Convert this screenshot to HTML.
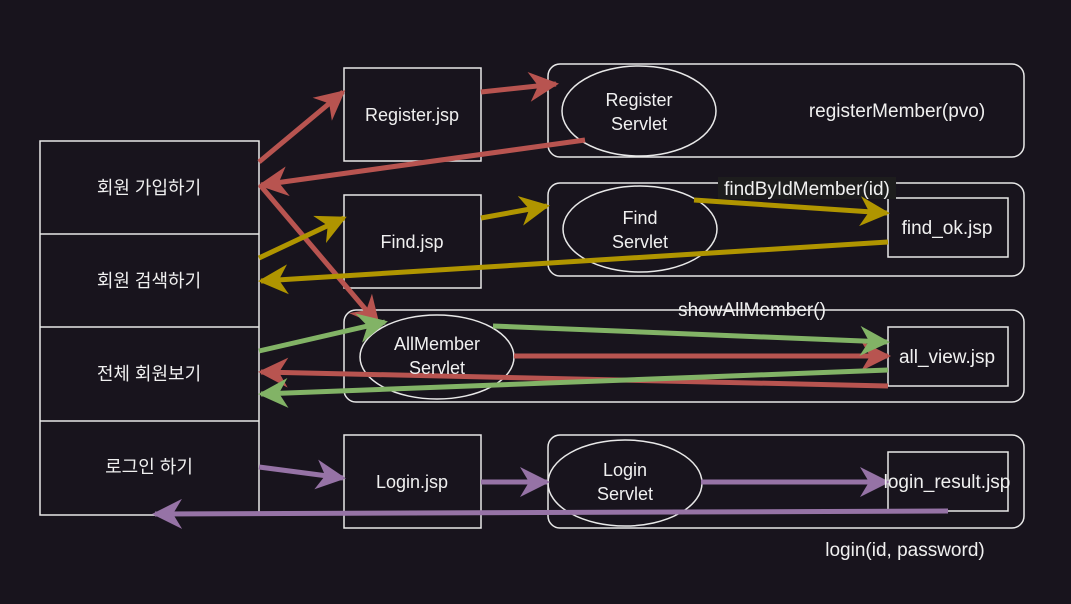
<!DOCTYPE html>
<html><head><meta charset="utf-8"><style>
html,body{margin:0;padding:0;background:#18141d;}
svg{display:block;}
text{font-family:"Liberation Sans","Noto Sans CJK KR",sans-serif;fill:#f0f0f0;font-size:18px;text-anchor:middle;}
</style></head><body>
<svg width="1071" height="604" viewBox="0 0 1071 604">
<defs>
<marker id="mr" viewBox="0 0 10 10" refX="9" refY="5" markerWidth="6" markerHeight="6" orient="auto" markerUnits="strokeWidth"><path d="M0,0 L10,5 L0,10 L3,5 Z" fill="#b85450"/></marker>
<marker id="my" viewBox="0 0 10 10" refX="9" refY="5" markerWidth="6" markerHeight="6" orient="auto" markerUnits="strokeWidth"><path d="M0,0 L10,5 L0,10 L3,5 Z" fill="#b09500"/></marker>
<marker id="mg" viewBox="0 0 10 10" refX="9" refY="5" markerWidth="6" markerHeight="6" orient="auto" markerUnits="strokeWidth"><path d="M0,0 L10,5 L0,10 L3,5 Z" fill="#82b366"/></marker>
<marker id="mp" viewBox="0 0 10 10" refX="9" refY="5" markerWidth="6" markerHeight="6" orient="auto" markerUnits="strokeWidth"><path d="M0,0 L10,5 L0,10 L3,5 Z" fill="#9673a6"/></marker>
</defs>
<g fill="none" stroke="#e8e8e8" stroke-width="1.5">
<rect x="40" y="141" width="219" height="374"/>
<line x1="40" y1="234" x2="259" y2="234"/><line x1="40" y1="327" x2="259" y2="327"/><line x1="40" y1="421" x2="259" y2="421"/>
<rect x="344" y="68" width="137" height="93"/>
<rect x="344" y="195" width="137" height="93"/>
<rect x="344" y="435" width="137" height="93"/>
<rect x="548" y="64" width="476" height="93" rx="12"/>
<rect x="548" y="183" width="476" height="93" rx="12"/>
<rect x="344" y="310" width="680" height="92" rx="12"/>
<rect x="548" y="435" width="476" height="93" rx="12"/>
<ellipse cx="639" cy="111" rx="77" ry="45"/>
<ellipse cx="640" cy="229" rx="77" ry="43"/>
<ellipse cx="437" cy="357" rx="77" ry="42"/>
<ellipse cx="625" cy="483" rx="77" ry="43"/>
<rect x="888" y="198" width="120" height="59"/>
<rect x="888" y="327" width="120" height="59"/>
<rect x="888" y="452" width="120" height="59"/>
</g>
<rect x="718" y="177" width="178" height="22" fill="#1d1d1d"/>
<g fill="none" stroke-width="5">
<line x1="259" y1="162" x2="343" y2="92" stroke="#b85450" marker-end="url(#mr)"/>
<line x1="481" y1="92" x2="556" y2="84" stroke="#b85450" marker-end="url(#mr)"/>
<line x1="585" y1="140" x2="261" y2="185" stroke="#b85450" marker-end="url(#mr)"/>
<line x1="260" y1="185" x2="378" y2="324" stroke="#b85450" marker-end="url(#mr)"/>
<line x1="514" y1="356" x2="888" y2="356" stroke="#b85450" marker-end="url(#mr)"/>
<line x1="888" y1="386" x2="261" y2="372" stroke="#b85450" marker-end="url(#mr)"/>
<line x1="259" y1="258" x2="344" y2="218" stroke="#b09500" marker-end="url(#my)"/>
<line x1="481" y1="218" x2="547" y2="206" stroke="#b09500" marker-end="url(#my)"/>
<line x1="694" y1="200" x2="887" y2="213" stroke="#b09500" marker-end="url(#my)"/>
<line x1="888" y1="242" x2="261" y2="281" stroke="#b09500" marker-end="url(#my)"/>
<line x1="259" y1="351" x2="385" y2="322" stroke="#82b366" marker-end="url(#mg)"/>
<line x1="493" y1="326" x2="887" y2="342" stroke="#82b366" marker-end="url(#mg)"/>
<line x1="888" y1="370" x2="261" y2="394" stroke="#82b366" marker-end="url(#mg)"/>
<line x1="259" y1="467" x2="343" y2="478" stroke="#9673a6" marker-end="url(#mp)"/>
<line x1="481" y1="482" x2="547" y2="482" stroke="#9673a6" marker-end="url(#mp)"/>
<line x1="701" y1="482" x2="887" y2="482" stroke="#9673a6" marker-end="url(#mp)"/>
<line x1="948" y1="511" x2="155" y2="514" stroke="#9673a6" marker-end="url(#mp)"/>
</g>
<text x="149" y="194">회원 가입하기</text>
<text x="149" y="287">회원 검색하기</text>
<text x="149" y="380">전체 회원보기</text>
<text x="149" y="473">로그인 하기</text>
<text x="412" y="121">Register.jsp</text>
<text x="412" y="248">Find.jsp</text>
<text x="412" y="488">Login.jsp</text>
<text x="639" y="106">Register</text><text x="639" y="130">Servlet</text>
<text x="640" y="224">Find</text><text x="640" y="248">Servlet</text>
<text x="437" y="350">AllMember</text><text x="437" y="374">Servlet</text>
<text x="625" y="476">Login</text><text x="625" y="500">Servlet</text>
<text x="947" y="234" style="font-size:19px">find_ok.jsp</text>
<text x="947" y="363" style="font-size:19px">all_view.jsp</text>
<text x="947" y="488" style="font-size:19px">login_result.jsp</text>
<text x="897" y="117" style="font-size:19px">registerMember(pvo)</text>
<text x="807" y="195" style="font-size:19px">findByIdMember(id)</text>
<text x="752" y="316" style="font-size:19px">showAllMember()</text>
<text x="905" y="556" style="font-size:19px">login(id, password)</text>
</svg>
</body></html>
